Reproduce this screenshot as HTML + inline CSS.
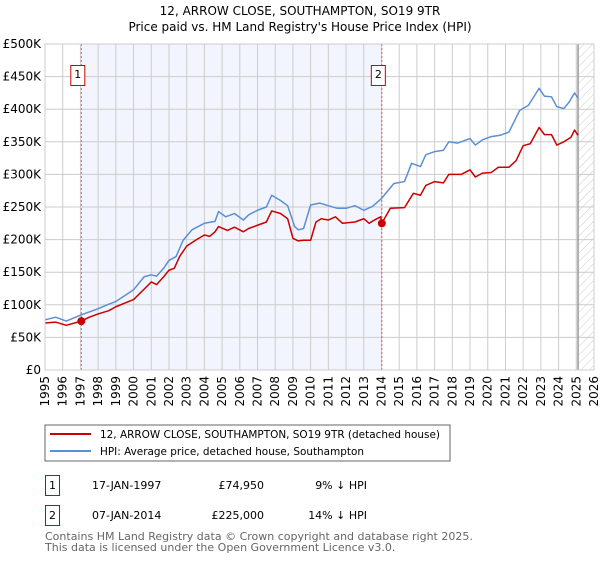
<!DOCTYPE html>
<html><head><meta charset="utf-8"><style>
body{margin:0;background:#fff;font-family:"DejaVu Sans","Liberation Sans",sans-serif;}
svg text{font-family:"DejaVu Sans","Liberation Sans",sans-serif;}
</style></head><body>
<svg id="chart" width="600" height="560">
<defs><pattern id="hatch" width="6" height="6" patternUnits="userSpaceOnUse" patternTransform="rotate(45)"><line x1="0" y1="0" x2="0" y2="6" stroke="#ccc" stroke-width="1"/></pattern></defs>
<text x="300" y="15" text-anchor="middle" font-size="12">12, ARROW CLOSE, SOUTHAMPTON, SO19 9TR</text>
<text x="300" y="31" text-anchor="middle" font-size="12">Price paid vs. HM Land Registry's House Price Index (HPI)</text>
<g id="plot"></g>
<rect x="45" y="425" width="405" height="36" fill="#fff" stroke="#666"/>
<line x1="50" y1="434" x2="91" y2="434" stroke="#cc0000" stroke-width="2"/>
<text x="100" y="438" font-size="10.5" textLength="340" lengthAdjust="spacingAndGlyphs">12, ARROW CLOSE, SOUTHAMPTON, SO19 9TR (detached house)</text>
<line x1="50" y1="451" x2="91" y2="451" stroke="#5b8fd4" stroke-width="2"/>
<text x="100" y="455" font-size="10.5" textLength="264" lengthAdjust="spacingAndGlyphs">HPI: Average price, detached house, Southampton</text>
<rect x="45.5" y="475.5" width="14" height="20" fill="none" stroke="#cc0000"/>
<text x="52.5" y="489" font-size="11" text-anchor="middle">1</text>
<text x="92" y="489" font-size="11">17-JAN-1997</text>
<text x="264" y="489" font-size="11" text-anchor="end">£74,950</text>
<text x="367" y="489" font-size="11" text-anchor="end">9% ↓ HPI</text>
<rect x="45.5" y="505.5" width="14" height="20" fill="none" stroke="#cc0000"/>
<text x="52.5" y="519" font-size="11" text-anchor="middle">2</text>
<text x="92" y="519" font-size="11">07-JAN-2014</text>
<text x="264" y="519" font-size="11" text-anchor="end">£225,000</text>
<text x="367" y="519" font-size="11" text-anchor="end">14% ↓ HPI</text>
<text x="45" y="540" font-size="11" fill="#666">Contains HM Land Registry data © Crown copyright and database right 2025.</text>
<text x="45" y="551" font-size="11" fill="#666">This data is licensed under the Open Government Licence v3.0.</text>
</svg>
<script>
const hpiYears=[1995,1995.6,1996.2,1997,1998,1998.6,1999,2000,2000.6,2001,2001.3,2001.7,2002,2002.4,2002.8,2003.3,2004,2004.6,2004.8,2005.2,2005.7,2006.2,2006.5,2007,2007.5,2007.8,2008.3,2008.7,2009.1,2009.3,2009.6,2010,2010.5,2011,2011.5,2012,2012.5,2013,2013.5,2014,2014.7,2015.3,2015.7,2016.2,2016.5,2017,2017.5,2017.8,2018.3,2019,2019.3,2019.7,2020.2,2020.7,2021.2,2021.4,2021.8,2022.3,2022.9,2023.2,2023.6,2023.9,2024.3,2024.6,2024.9,2025.1];
const hpiValues=[77,81,75,84,94,101,105,123,143,146,144,156,168,174,199,215,225,228,243,235,240,230,238,245,250,268,260,252,220,215,217,253,256,252,248,248,252,245,251,263,286,289,317,312,330,335,337,350,348,355,345,353,358,360,365,376,398,406,432,420,419,404,401,411,425,417];
const priceYears=[1995,1995.6,1996.2,1997.05,1997.5,1998,1998.6,1999,2000,2000.6,2001,2001.3,2001.7,2002,2002.3,2002.6,2003,2003.5,2004,2004.3,2004.6,2004.8,2005.3,2005.7,2006.2,2006.5,2007,2007.5,2007.8,2008.3,2008.7,2009,2009.3,2009.6,2010,2010.3,2010.6,2011,2011.4,2011.8,2012.5,2013,2013.3,2013.6,2013.95,2014.02,2014.5,2015.3,2015.8,2016.2,2016.5,2017,2017.5,2017.8,2018.5,2019,2019.3,2019.7,2020.2,2020.6,2021.2,2021.6,2022,2022.4,2022.9,2023.2,2023.6,2023.9,2024.3,2024.7,2024.9,2025.1];
const priceValues=[72,73.5,68.5,75,81,86,91,97,108,124,135,131,143,153,156,174,190,199,207,205,212,220,214,219,212,217,222,227,244,240,232,202,198,199,199,227,232,230,235,225,227,232,225,230,235,225,248,249,271,268,283,289,287,300,300,307,296,302,303,311,311,321,344,347,372,361,361,345,350,357,368,360];
const saleYears=[1997.05,2014.02];
const saleValues=[74.95,225];
const saleLabels=["1","2"];
const yTicks=[0,50,100,150,200,250,300,350,400,450,500];
const yTickLabels=["£0","£50K","£100K","£150K","£200K","£250K","£300K","£350K","£400K","£450K","£500K"];
const xTicks=[1995,1996,1997,1998,1999,2000,2001,2002,2003,2004,2005,2006,2007,2008,2009,2010,2011,2012,2013,2014,2015,2016,2017,2018,2019,2020,2021,2022,2023,2024,2025,2026];
const L=45,R=594,T=44,B=370;
const xs=y=>L+(y-1995)/31*(R-L);
const ys=v=>B-v/500*(B-T);
const NS="http://www.w3.org/2000/svg";
const g=document.getElementById('plot');
function mk(t,a,p){const e=document.createElementNS(NS,t);for(const k in a)e.setAttribute(k,a[k]);(p||g).appendChild(e);return e;}
const bg=mk('rect',{x:L,y:T,width:R-L,height:B-T,fill:'#fff'});


const sh=mk('rect',{x:xs(saleYears[0]),y:T,width:xs(saleYears[1])-xs(saleYears[0]),height:B-T,fill:'#f2f5fd'});


const hx=xs(2025.1);
const ht=mk('rect',{x:hx,y:T,width:R-hx,height:B-T,fill:'url(#hatch)'});


yTicks.forEach((v,i)=>{
 const l=mk('line',{x1:L,x2:R,y1:ys(v),y2:ys(v),stroke:'#ccc'});
 
 
 const t=mk('text',{x:L-4,y:ys(v)+4,'text-anchor':'end','font-size':'12'});
 t.textContent=yTickLabels[i];
 
 
});
xTicks.forEach(y=>{
 const l=mk('line',{x1:xs(y),x2:xs(y),y1:T,y2:B,stroke:'#ccc'});
 
 
 const t=mk('text',{x:0,y:0,'text-anchor':'end','font-size':'12',transform:`translate(${xs(y)+4},${B+6}) rotate(-90)`});
 t.textContent=y;
 
 
});
const vl=mk('line',{x1:hx,x2:hx,y1:T,y2:B,stroke:'#999','stroke-width':1.5});


saleYears.forEach((y,i)=>{
 const d=mk('line',{x1:xs(y),x2:xs(y),y1:T,y2:B,stroke:'#e06060','stroke-dasharray':'2,2'});
 
 
 const r=mk('rect',{x:xs(y)-10.5,y:65.5,width:14,height:20,fill:'#fff',stroke:'#cc0000'});
 
 
 const t=mk('text',{x:xs(y)-3.5,y:78,'text-anchor':'middle','font-size':'11'});
 t.textContent=saleLabels[i];
 
 
});
const hp=mk('polyline',{points:hpiYears.map((y,i)=>xs(y)+','+ys(hpiValues[i])).join(' '),fill:'none',stroke:'#5b8fd4','stroke-width':1.5,'stroke-linejoin':'round'});


const pp=mk('polyline',{points:priceYears.map((y,i)=>xs(y)+','+ys(priceValues[i])).join(' '),fill:'none',stroke:'#cc0000','stroke-width':1.5,'stroke-linejoin':'round'});


saleYears.forEach((y,i)=>{
 const c=mk('circle',{cx:xs(y),cy:ys(saleValues[i]),r:4,fill:'#cc0000'});
 
 
});
const fr=mk('rect',{x:L,y:T,width:R-L,height:B-T,fill:'none',stroke:'#ccc'});


</script>
</body></html>
